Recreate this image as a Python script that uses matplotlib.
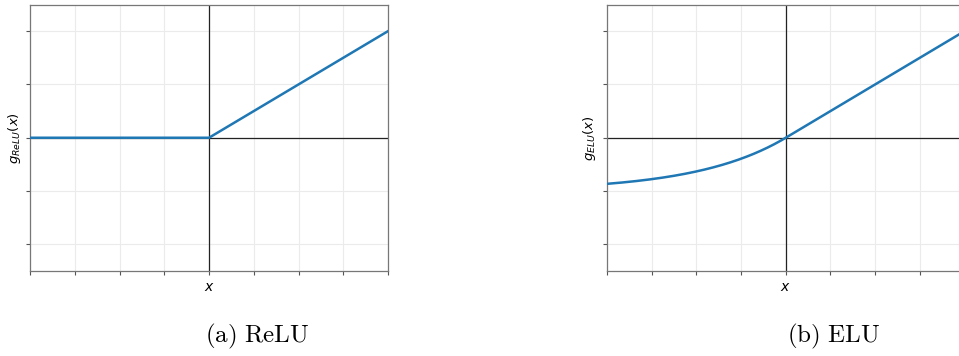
import numpy as np
import matplotlib.pyplot as plt

# activation inputs
x = np.linspace(-2, 2, 401)
relu = np.maximum(x, 0)
elu = np.where(x > 0, x, np.exp(x) - 1)

x_ticks = [-2, -1.5, -1, -0.5, 0, 0.5, 1, 1.5, 2]
y_ticks = [-2, -1, 0, 1, 2]

panels = [
    (relu, r'$g_{ReLU}(x)$', r'$\mathrm{(a)\ ReLU}$'),
    (elu, r'$g_{ELU}(x)$', r'$\mathrm{(b)\ ELU}$'),
]

W, H = 959, 356
fig = plt.figure(figsize=(W / 100, H / 100), dpi=100)

# axes boxes in pixels: left, top, width, height
boxes = [(30, 4.5, 358, 266.5), (607, 4.5, 357.5, 266.5)]
caption_x = [257, 834]
ylab_off = [15.5, 17]

for (y, ylab, cap), (l, t, w, h), cx, off in zip(panels, boxes, caption_x, ylab_off):
    ax = fig.add_axes([l / W, 1 - (t + h) / H, w / W, h / H])
    ax.plot(x, y, color='#1f77b4', lw=1.8, zorder=3)
    ax.axhline(0, color='#222222', lw=0.9, zorder=2)
    ax.axvline(0, color='#222222', lw=0.9, zorder=2)
    ax.set_xlim(-2, 2)
    ax.set_ylim(-2.5, 2.5)
    ax.set_xticks(x_ticks)
    ax.set_yticks(y_ticks)
    ax.set_xticklabels([])
    ax.set_yticklabels([])
    ax.grid(True, color='#ebebeb', lw=0.8, zorder=0)
    ax.tick_params(direction='out', length=3, width=0.8, color='#555555')
    for s in ax.spines.values():
        s.set_color('#777777')
        s.set_linewidth(0.9)
    ax.set_xlabel(r'$x$', fontsize=10, va='center')
    ax.xaxis.set_label_coords(0.5, -16 / h)
    ax.set_ylabel(ylab, fontsize=9.5, va='center')
    ax.yaxis.set_label_coords(-off / w, 0.5)
    fig.text(cx / W, 1 - 336 / H, cap, ha='center', va='center',
             fontsize=18, math_fontfamily='cm')

fig.savefig('out.png', dpi=100)
